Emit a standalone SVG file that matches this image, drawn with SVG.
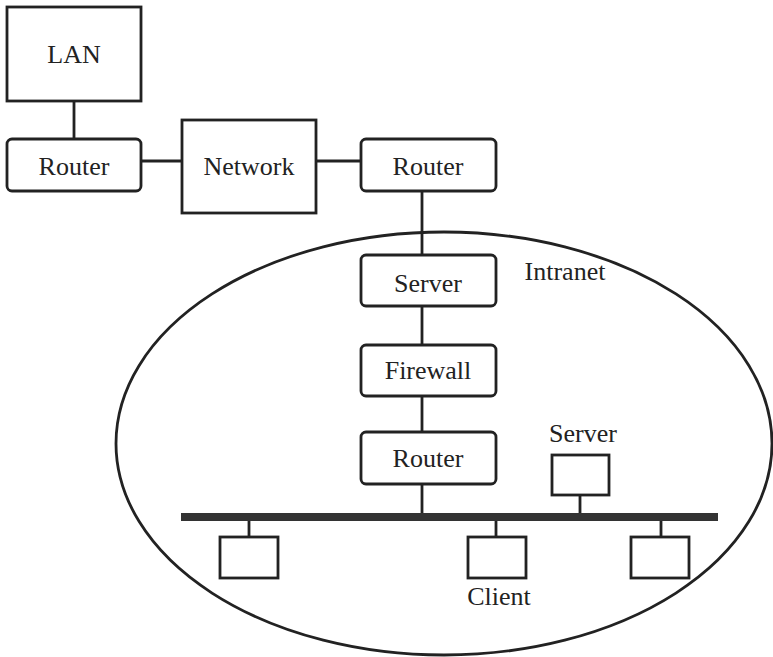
<svg xmlns="http://www.w3.org/2000/svg" width="773" height="657" viewBox="0 0 773 657">
<style>
.b{fill:#fff;stroke:#222;stroke-width:2.8}
.l{fill:none;stroke:#222;stroke-width:2.8}
.t{font-family:"Liberation Serif","Times New Roman",serif;font-size:26px;fill:#222;text-anchor:middle}
</style>
<rect width="773" height="657" fill="#fff"/>
<ellipse id="intranet" cx="444" cy="443.5" rx="328" ry="211.5" class="l"/>
<text class="t" x="565" y="280">Intranet</text>
<g id="connectors">
<line class="l" x1="74" y1="101" x2="74" y2="139"/>
<line class="l" x1="141" y1="161" x2="182" y2="161"/>
<line class="l" x1="316" y1="161" x2="361" y2="161"/>
<line class="l" x1="422" y1="191" x2="422" y2="255"/>
<line class="l" x1="422" y1="306" x2="422" y2="345"/>
<line class="l" x1="422" y1="396" x2="422" y2="432"/>
<line class="l" x1="422" y1="484" x2="422" y2="514"/>
<line class="l" x1="580" y1="495" x2="580" y2="514"/>
<line class="l" x1="249" y1="520" x2="249" y2="537"/>
<line class="l" x1="496" y1="520" x2="496" y2="537"/>
<line class="l" x1="661" y1="520" x2="661" y2="537"/>
</g>
<rect id="bus" x="181" y="513" width="537" height="8" fill="#333"/>
<g id="lan"><rect class="b" x="7" y="7" width="134" height="94"/><text class="t" x="74" y="63">LAN</text></g>
<g id="router1"><rect class="b" x="7" y="139" width="134" height="52" rx="5"/><text class="t" x="74" y="175">Router</text></g>
<g id="network"><rect class="b" x="182" y="120" width="134" height="93"/><text class="t" x="249" y="175">Network</text></g>
<g id="router2"><rect class="b" x="361" y="139" width="135" height="52" rx="5"/><text class="t" x="428" y="175">Router</text></g>
<g id="server1"><rect class="b" x="361" y="255" width="135" height="51" rx="5"/><text class="t" x="428" y="292">Server</text></g>
<g id="firewall"><rect class="b" x="361" y="345" width="135" height="51" rx="5"/><text class="t" x="428" y="379">Firewall</text></g>
<g id="router3"><rect class="b" x="361" y="432" width="135" height="52" rx="5"/><text class="t" x="428" y="467">Router</text></g>
<g id="server2"><rect class="b" x="552" y="455" width="57" height="40"/><text class="t" x="583" y="442">Server</text></g>
<g id="pc1"><rect class="b" x="220" y="537" width="58" height="41"/></g>
<g id="client"><rect class="b" x="468" y="537" width="58" height="41"/><text class="t" x="499" y="605">Client</text></g>
<g id="pc3"><rect class="b" x="631" y="537" width="58" height="41"/></g>
</svg>
